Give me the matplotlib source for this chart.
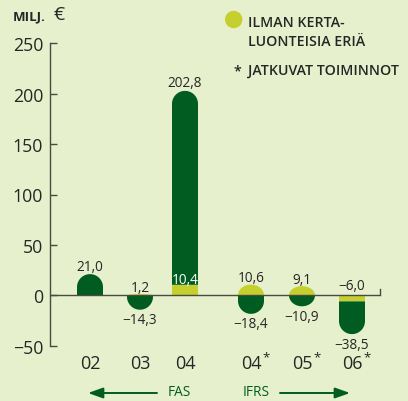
import numpy as np
import matplotlib
matplotlib.use("Agg")
import matplotlib.pyplot as plt
from matplotlib.patches import Polygon, Circle, FancyArrowPatch

plt.rcParams["font.family"] = ["Open Sans", "DejaVu Sans"]

# data
years = ["02", "03", "04", "04", "05", "06"]
starred = [False, False, False, True, True, True]
reported = [21.0, -14.3, 202.8, -18.4, -10.9, -38.5]      # dark green
excl_items = [None, 1.2, 10.4, 10.6, 9.1, -6.0]           # light green
yticks = [-50, 0, 50, 100, 150, 200, 250]

# layout / style
pos = [0, 1, 1.9, 3.22, 4.24, 5.24]
BG = "#e6f0cc"
DARK = "#005c20"
LIGHT = "#c5d02f"
TXT = "#262626"
AX = "#4a4a42"
W, H = 408, 402
xmin, xmax = -0.8, 5.8
ymin, ymax = -50, 250
bar_w = 0.52

fig = plt.figure(figsize=(W / 100, H / 100), dpi=100, facecolor=BG)
ax_l, ax_r, ax_t, ax_b = 50, 380, 44.3, 346.7
ax = fig.add_axes([ax_l / W, 1 - ax_b / H, (ax_r - ax_l) / W, (ax_b - ax_t) / H])
ax.set_facecolor(BG)
ax.set_xlim(xmin, xmax)
ax.set_ylim(ymin, ymax)

sx = (ax_r - ax_l) / (xmax - xmin)
sy = (ax_b - ax_t) / (ymax - ymin)
r_y = (bar_w * sx / 2) / sy


def seg(x, y0, y1, color, rounded):
    h = y1 - y0
    s = np.sign(h)
    r = min(r_y, abs(h)) if rounded else 0.0
    flat = y1 - s * r
    t = np.linspace(0, np.pi, 60)
    xs = np.concatenate([[x - bar_w / 2], x - bar_w / 2 * np.cos(t), [x + bar_w / 2]])
    ys = np.concatenate([[y0], flat + s * r * np.sin(t), [y0]])
    ax.add_patch(Polygon(np.column_stack([xs, ys]), closed=True,
                         facecolor=color, edgecolor="none", zorder=2))


def fmt(v):
    return f"{v:.1f}".replace(".", ",").replace("-", "\u2212")


def label(x, y, v, dy, color=TXT):
    ax.annotate(fmt(v), (x, y), xytext=(0, dy), textcoords="offset pixels",
                ha="center", va="center", fontsize=9.8, color=color, zorder=4)


for x, d, l in zip(pos, reported, excl_items):
    stacked = l is not None and np.sign(l) == np.sign(d) and abs(d) > abs(l)
    if stacked:
        seg(x, 0, l, LIGHT, False)
        seg(x, l, d, DARK, True)
        if l > 0:
            label(x, l, l, 5, "white")
        else:
            label(x, 0, l, 10)
    else:
        if l is not None:
            seg(x, 0, l, LIGHT, True)
            label(x, l, l, 7 if l > 0 else -10)
        seg(x, 0, d, DARK, True)
    label(x, d, d, 8 if d > 0 else -10)

# axes decoration
for s in ["top", "right", "bottom"]:
    ax.spines[s].set_visible(False)
ax.spines["left"].set_color(AX)
ax.spines["left"].set_linewidth(1.0)
ax.axhline(0, color=AX, lw=1.0, zorder=3)
ax.plot([xmax, xmax], [0, 6], color=AX, lw=1.0, clip_on=False, zorder=3)
ax.set_yticks(yticks)
ax.set_yticklabels([str(v).replace("-", "\u2212") for v in yticks])
ax.tick_params(axis="y", direction="in", length=5, width=1.0, color=AX,
               labelsize=12.8, labelcolor=TXT, pad=5)
ax.set_xticks([])

for x, yr, st in zip(pos, years, starred):
    t = ax.annotate(yr, (x, ymin), xytext=(0, -17), textcoords="offset pixels",
                    ha="center", va="center", fontsize=13, color=TXT)
    if st:
        ax.annotate("*", (1, 1), xycoords=t, xytext=(1, 3), textcoords="offset pixels",
                    ha="left", va="top", fontsize=9.5, color=TXT)

# unit label
fig.text(13 / W, 1 - 20 / H, "MILJ.", fontsize=9.5, fontweight="bold", color=TXT,
         ha="left", va="baseline")
fig.text(54 / W, 1 - 20.5 / H, "\u20ac", fontsize=14, color=TXT, ha="left", va="baseline")

# legend
fig.add_artist(Circle((233.7 / 100, (H - 20.5) / 100), 0.087, transform=fig.dpi_scale_trans,
                      facecolor=LIGHT, edgecolor="none"))
leg_kw = dict(fontsize=10.2, fontweight="semibold", color=TXT, ha="left", va="center")
fig.text(248 / W, 1 - 22.8 / H, "ILMAN KERTA-", **leg_kw)
fig.text(248 / W, 1 - 42 / H, "LUONTEISIA ERIÄ", **leg_kw)
fig.text(233 / W, 1 - 71 / H, "*", **leg_kw)
fig.text(248 / W, 1 - 70.5 / H, "JATKUVAT TOIMINNOT", **leg_kw)

# FAS / IFRS arrows
for (x0, x1) in [(157, 88), (280, 350)]:
    fig.add_artist(FancyArrowPatch((x0 / 100, (H - 394) / 100), (x1 / 100, (H - 394) / 100),
                                   transform=fig.dpi_scale_trans,
                                   arrowstyle="-|>,head_length=0.9,head_width=0.32",
                                   mutation_scale=10, shrinkA=0, shrinkB=0,
                                   color=DARK, lw=1.4))
fig.text(179 / W, 1 - 393 / H, "FAS", fontsize=9.8, color=DARK, ha="center", va="center")
fig.text(256 / W, 1 - 393 / H, "IFRS", fontsize=9.8, color=DARK, ha="center", va="center")

fig.savefig("out.png", dpi=100, facecolor=BG)
